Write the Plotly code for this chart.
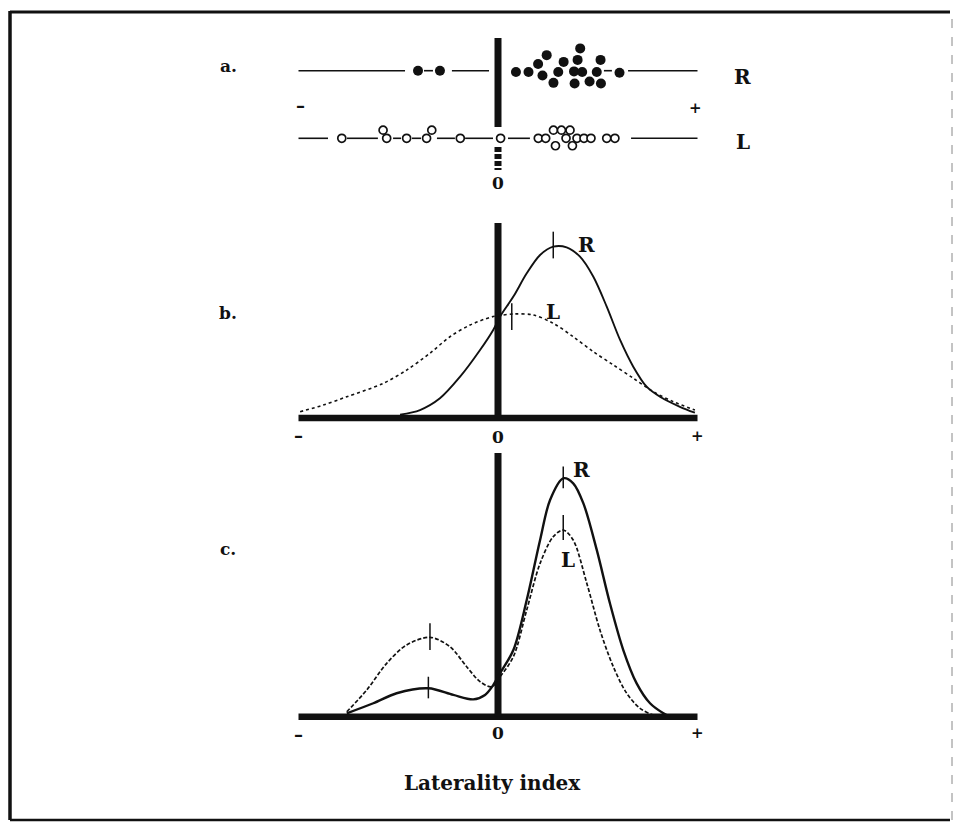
import plotly.graph_objects as go
from plotly.subplots import make_subplots

# ---------------- data (laterality index on x, -1 .. +1) ----------------
# panel a: individual subjects, right-handers (R) filled, left-handers (L) open
r_dot_x = [-0.401, -0.291, 0.090, 0.153, 0.201, 0.244, 0.223, 0.278, 0.302, 0.329,
           0.381, 0.412, 0.399, 0.384, 0.422, 0.459, 0.514, 0.495, 0.516, 0.609]
r_dot_y = [1.00, 1.00, 0.98, 0.98, 1.10, 1.23, 0.93, 0.82, 0.98, 1.13,
           0.99, 1.33, 1.16, 0.81, 0.98, 0.84, 1.16, 0.98, 0.81, 0.97]
l_dot_x = [-0.783, -0.576, -0.558, -0.458, -0.358, -0.332, -0.189, 0.013,
           0.202, 0.239, 0.278, 0.318, 0.361, 0.341, 0.396, 0.431, 0.466,
           0.288, 0.373, 0.545, 0.586]
l_dot_y = [0.0, 0.12, 0.0, 0.0, 0.0, 0.12, 0.0, 0.0,
           0.0, 0.0, 0.12, 0.12, 0.12, 0.0, 0.0, 0.0, 0.0,
           -0.11, -0.11, 0.0, 0.0]
r_row_segments = [(-1.0, -0.466), (-0.371, -0.326), (-0.231, -0.045), (0.531, 0.571), (0.652, 1.0)]
l_row_segments = [(-1.0, -0.852), (-0.757, -0.602), (-0.526, -0.486), (-0.431, -0.386),
                  (-0.306, -0.216), (-0.165, -0.025), (0.050, 0.160), (0.667, 1.0)]

# panel b: smoothed distributions
b_r_x = [-0.491, -0.391, -0.291, -0.190, -0.090, -0.024, 0.010, 0.077, 0.144, 0.211, 0.277,
         0.344, 0.411, 0.478, 0.545, 0.612, 0.678, 0.745, 0.812, 0.912, 0.987]
b_r_y = [0.020, 0.047, 0.116, 0.243, 0.400, 0.518, 0.596, 0.714, 0.851, 0.959, 1.008,
         1.004, 0.949, 0.831, 0.655, 0.459, 0.302, 0.184, 0.125, 0.066, 0.031]
b_l_x = [-0.992, -0.876, -0.758, -0.575, -0.458, -0.341, -0.241, -0.140, -0.040, -0.007, 0.077,
         0.177, 0.277, 0.377, 0.478, 0.578, 0.678, 0.778, 0.879, 0.987]
b_l_y = [0.037, 0.076, 0.125, 0.204, 0.282, 0.381, 0.478, 0.547, 0.592, 0.600, 0.612,
         0.606, 0.557, 0.478, 0.390, 0.312, 0.234, 0.155, 0.096, 0.047]
b_r_mode = (0.277, 0.939, 1.096)
b_l_mode = (0.069, 0.518, 0.675)

# panel c: bimodal distributions
c_r_x = [-0.758, -0.625, -0.508, -0.349, -0.224, -0.124, -0.065, -0.024, 0.010, 0.077, 0.144,
         0.211, 0.261, 0.327, 0.377, 0.428, 0.495, 0.561, 0.628, 0.695, 0.762, 0.829, 0.862]
c_r_y = [0.020, 0.079, 0.138, 0.167, 0.128, 0.102, 0.128, 0.186, 0.255, 0.392, 0.686,
         1.039, 1.275, 1.402, 1.373, 1.255, 0.981, 0.667, 0.392, 0.196, 0.079, 0.020, 0.0]
c_l_x = [-0.758, -0.658, -0.558, -0.458, -0.341, -0.241, -0.157, -0.090, -0.032, 0.010, 0.077,
         0.144, 0.211, 0.277, 0.327, 0.377, 0.445, 0.511, 0.578, 0.645, 0.712, 0.779, 0.845]
c_l_y = [0.029, 0.157, 0.314, 0.422, 0.467, 0.412, 0.294, 0.206, 0.176, 0.235, 0.353,
         0.628, 0.902, 1.059, 1.098, 1.039, 0.785, 0.510, 0.294, 0.138, 0.049, 0.010, 0.0]
c_modes = [(0.327, 1.344, 1.471), (0.327, 1.039, 1.186), (-0.341, 0.392, 0.549), (-0.349, 0.108, 0.235)]

# ---------------- figure ----------------
INK = "#111111"
SERIF = "DejaVu Serif"
fig = make_subplots(rows=3, cols=1)

def line(x, y, row, width=2, dash="solid", shape="linear"):
    fig.add_trace(go.Scatter(x=x, y=y, mode="lines", line=dict(color=INK, width=width, dash=dash, shape=shape,
                                                                smoothing=0.9),
                             hoverinfo="skip", showlegend=False), row=row, col=1)

def label(text, x, y, row, size=19):
    ax = "" if row == 1 else str(row)
    fig.add_annotation(text=text, x=x, y=y, xref="x" + ax, yref="y" + ax, showarrow=False,
                       font=dict(family=SERIF, size=size, color=INK, weight="bold"))

# panel a
for x0, x1 in r_row_segments:
    line([x0, x1], [1, 1], 1, width=1.6)
for x0, x1 in l_row_segments:
    line([x0, x1], [0, 0], 1, width=1.6)
line([0, 0], [0.167, 1.484], 1, width=7)
line([0, 0], [-0.129, -0.469], 1, width=7, dash="5px,2px")
fig.add_trace(go.Scatter(x=r_dot_x, y=r_dot_y, mode="markers",
                         marker=dict(size=10, color=INK, line=dict(width=0)),
                         hoverinfo="skip", showlegend=False), row=1, col=1)
fig.add_trace(go.Scatter(x=l_dot_x, y=l_dot_y, mode="markers",
                         marker=dict(size=8, color="white", line=dict(width=1.7, color=INK)),
                         hoverinfo="skip", showlegend=False), row=1, col=1)
label("R", 1.228, 0.91, 1, size=20)
label("L", 1.228, -0.05, 1, size=20)
label("–", -0.992, 0.49, 1, size=18)
label("+", 0.99, 0.45, 1, size=15)
label("0", 0.0, -0.66, 1, size=17)
label("a.", -1.353, 1.07, 1, size=17)

# panel b
line([-1, 1], [0, 0], 2, width=6.5)
line([0, 0], [0, 1.147], 2, width=7)
line(b_l_x, b_l_y, 2, width=1.6, dash="dot", shape="spline")
line(b_r_x, b_r_y, 2, width=1.9, shape="spline")
line([b_r_mode[0]] * 2, list(b_r_mode[1:]), 2, width=1.5)
line([b_l_mode[0]] * 2, list(b_l_mode[1:]), 2, width=1.5)
label("R", 0.445, 1.018, 2, size=20)
label("L", 0.277, 0.625, 2, size=20)
label("–", -1.0, -0.105, 2, size=18)
label("0", 0.0, -0.112, 2, size=17)
label("+", 1.0, -0.106, 2, size=15)
label("b.", -1.353, 0.618, 2, size=17)

# panel c
line([-1, 1], [0, 0], 3, width=6.5)
line([0, 0], [0, 1.551], 3, width=7)
line(c_l_x, c_l_y, 3, width=1.7, dash="4px,2px", shape="spline")
line(c_r_x, c_r_y, 3, width=2.4, shape="spline")
for mx, y0, y1 in c_modes:
    line([mx, mx], [y0, y1], 3, width=1.5)
label("R", 0.420, 1.451, 3, size=20)
label("L", 0.352, 0.922, 3, size=20)
label("–", -1.0, -0.105, 3, size=18)
label("0", 0.0, -0.096, 3, size=17)
label("+", 1.0, -0.096, 3, size=15)
label("c.", -1.353, 0.986, 3, size=17)

fig.add_annotation(text="Laterality index", x=-0.03, y=0.036, xref="x3", yref="paper", showarrow=False,
                   font=dict(family=SERIF, size=20, color=INK, weight="bold"))

# frame around the figure
fig.add_shape(type="line", xref="paper", yref="paper", x0=10 / 959, x1=10 / 959, y0=1 - 820 / 827,
              y1=1 - 11 / 827, line=dict(color=INK, width=3.5))
fig.add_shape(type="line", xref="paper", yref="paper", x0=10 / 959, x1=950 / 959, y0=1 - 12 / 827,
              y1=1 - 12 / 827, line=dict(color=INK, width=3))
fig.add_shape(type="line", xref="paper", yref="paper", x0=10 / 959, x1=950 / 959, y0=1 - 820 / 827,
              y1=1 - 820 / 827, line=dict(color=INK, width=2.5))
fig.add_shape(type="line", xref="paper", yref="paper", x0=952 / 959, x1=952 / 959, y0=1 - 820 / 827,
              y1=1 - 12 / 827, line=dict(color="#888888", width=1, dash="dash"))

x_range = [-498 / 199.5, 461 / 199.5]
hidden = dict(visible=False, showgrid=False, zeroline=False, fixedrange=True)
for i in (1, 2, 3):
    fig.update_layout({f"xaxis{'' if i == 1 else i}": dict(domain=[0, 1], range=x_range, **hidden)})
fig.update_layout(
    yaxis=dict(domain=[1 - 200 / 827, 1 - 30 / 827], range=[-0.9127, 1.6021], **hidden),
    yaxis2=dict(domain=[1 - 440 / 827, 1 - 215 / 827], range=[-0.1294, 1.1941], **hidden),
    yaxis3=dict(domain=[1 - 740 / 827, 1 - 445 / 827], range=[-0.1371, 1.5982], **hidden),
    width=959, height=827, margin=dict(l=0, r=0, t=0, b=0),
    paper_bgcolor="white", plot_bgcolor="white", showlegend=False,
)

fig.write_html("out.html")
